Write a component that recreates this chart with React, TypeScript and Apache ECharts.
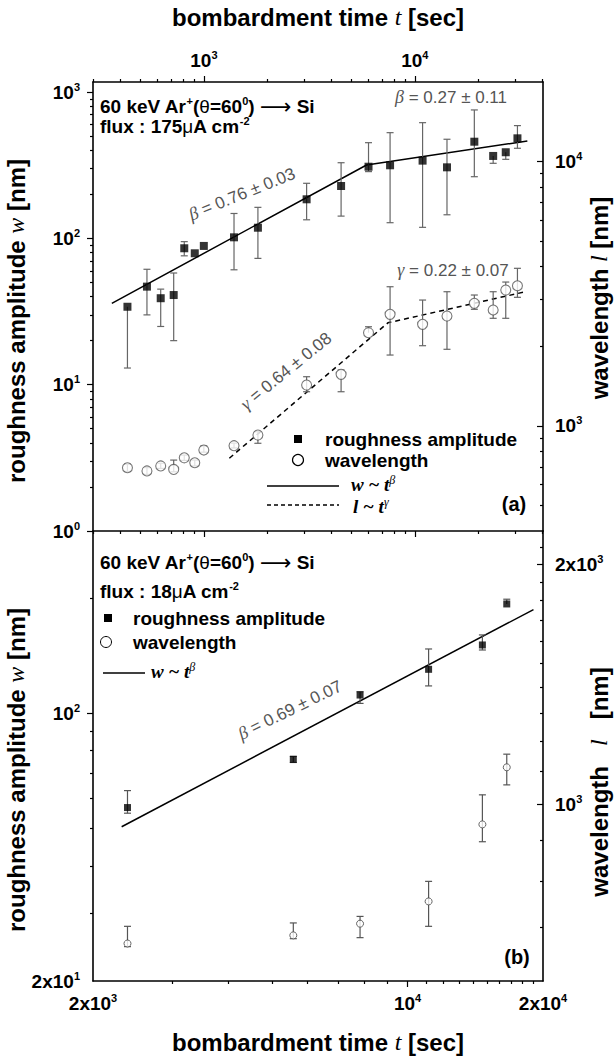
import React, { useEffect, useRef } from 'react';
import * as echarts from 'echarts';

// ---------------- data: panel (a) ----------------
const tA = [434, 537, 624, 719, 807, 905, 999, 1389, 1803, 3068, 4470, 6030, 7630, 10880, 14200, 19140, 23510, 26970, 30640];
const wA = [34.1, 46.8, 39.0, 41.0, 85.6, 79.1, 88.8, 101.7, 118.3, 185, 228, 309, 316, 340, 306, 458, 366, 388, 483];
const wALo = [13.0, 30, 25, 20, 76, 79.1, 88.8, 61, 73, 134, 142, 286, 128, 119, 145, 264, 326, 347, 413];
const wAHi = [34.1, 61.5, 45, 58, 95, 79.1, 88.8, 148, 163, 238, 329, 451, 528, 618, 476, 755, 366, 388, 590];
const lA = [694, 675, 705, 684, 757, 725, 810, 841, 923, 1427, 1566, 2251, 2642, 2421, 2603, 2907, 2743, 3265, 3389];
const lALo = [672, 655, 690, 670, 740, 705, 795, 825, 859, 1346, 1346, 2251, 1853, 2010, 1948, 2760, 2552, 2552, 3064];
const lAHi = [716, 695, 722, 742, 775, 742, 839, 860, 950, 1534, 1626, 2371, 3360, 2992, 3217, 3126, 3217, 3500, 3945];
const fitWAt = [366, 5902, 34140];
const fitWAw = [36.0, 317.5, 463];
const fitLAt = [1320, 7450, 33420];
const fitLAl = [754, 2453, 3217];

// ---------------- data: panel (b) ----------------
const tB = [2386, 5574, 7843, 11138, 14667, 16615];
const wB = [56.8, 75.9, 111.8, 130.5, 151.1, 193.4];
const wBLo = [54.9, 74.5, 106.3, 118.1, 146.6, 193.4];
const wBHi = [62.9, 77.3, 114.1, 147.5, 160.5, 199];
const lB = [668.6, 684.5, 708, 755, 943, 1112];
const lBLo = [662.6, 678, 680, 702.6, 897, 1057];
const lBHi = [702.6, 709.5, 723, 800, 1027, 1155];
const fitWBt = [2316, 19050];
const fitWBw = [50.6, 187];

// ---------------- axis ticks / labels ----------------
const aTimeRange = [298, 40500];
const aTimeLabels = [1000, 10000];
const aTimeMinor = [300, 400, 500, 600, 700, 800, 900, 2000, 3000, 4000, 5000, 6000, 7000, 8000, 9000, 20000, 30000, 40000];
const aWRange = [1, 1172];
const aWLabels = [1, 10, 100, 1000];
const aWMinor = [2, 3, 4, 5, 6, 7, 8, 9, 20, 30, 40, 50, 60, 70, 80, 90, 200, 300, 400, 500, 600, 700, 800, 900];
const aLRange = [400, 20000];
const aLLabels = [1000, 10000];
const aLMinor = [500, 600, 700, 800, 900, 2000, 3000, 4000, 5000, 6000, 7000, 8000, 9000];
const bTimeRange = [2000, 20000];
const bTimeLabels = [2000, 10000, 20000];
const bTimeMajor = [10000];
const bTimeMinor = [3000, 4000, 5000, 6000, 7000, 8000, 9000, 11000, 12000, 13000, 14000, 15000, 16000, 17000, 18000, 19000];
const bWRange = [20, 300];
const bWLabels = [20, 100];
const bWMajor = [100];
const bWMinor = [30, 40, 50, 60, 70, 80, 90, 200];
const bLRange = [600, 2200];
const bLLabels = [1000, 2000];
const bLMinor = [700, 800, 900, 1100, 1200, 1300, 1400, 1500, 1600, 1700, 1800, 1900, 2100];

const SANS = '"Liberation Sans", Arial, "DejaVu Sans", sans-serif';
const SERIF = '"Liberation Serif", "Times New Roman", "DejaVu Serif", serif';

function supLabel(v: number): string {
  const e = Math.floor(Math.log10(v) + 1e-9);
  const m = Math.round(v / Math.pow(10, e));
  return m === 1 ? `{b|10}{s|${e}}` : `{b|${m}x10}{s|${e}}`;
}

const labelRich = {
  b: { fontSize: 19, fontWeight: 'bold', fontFamily: SANS, color: '#000', lineHeight: 22 },
  s: { fontSize: 11, fontWeight: 'bold', fontFamily: SANS, color: '#000', lineHeight: 12, verticalAlign: 'top' },
};

function logAxis(o: any) {
  return {
    type: 'log',
    logBase: 10,
    gridIndex: o.grid,
    position: o.pos,
    min: o.range[0],
    max: o.range[1],
    axisLine: { show: !!o.line, onZero: false, lineStyle: { color: '#000', width: 1.6 } },
    axisTick: {
      show: true,
      inside: !!o.inside,
      length: o.len,
      customValues: o.ticks,
      lineStyle: { color: '#000', width: 1.2 },
    },
    axisLabel: o.labels
      ? { show: true, customValues: o.labels, formatter: (v: number) => supLabel(v), rich: labelRich, margin: o.margin ?? 12 }
      : { show: false },
    splitLine: { show: false },
    minorTick: { show: false },
    z: 5,
  };
}

function errSeries(xi: number, yi: number, t: number[], v: number[], lo: number[], hi: number[], color: string, cap: number) {
  return {
    type: 'custom',
    xAxisIndex: xi,
    yAxisIndex: yi,
    silent: true,
    z: 2,
    clip: false,
    data: t.map((tt, i) => [tt, v[i], lo[i], hi[i]]),
    renderItem: (_p: any, api: any) => {
      const x = api.value(0);
      const val = api.value(1);
      const l = api.value(2);
      const h = api.value(3);
      const pl = api.coord([x, l]);
      const ph = api.coord([x, h]);
      const st = { stroke: color, lineWidth: 1.2 };
      const ch: any[] = [{ type: 'line', shape: { x1: pl[0], y1: pl[1], x2: ph[0], y2: ph[1] }, style: st }];
      if (h > val) ch.push({ type: 'line', shape: { x1: ph[0] - cap, y1: ph[1], x2: ph[0] + cap, y2: ph[1] }, style: st });
      if (l < val) ch.push({ type: 'line', shape: { x1: pl[0] - cap, y1: pl[1], x2: pl[0] + cap, y2: pl[1] }, style: st });
      return { type: 'group', children: ch };
    },
  };
}

const R = {
  a: { fontSize: 19, fontWeight: 'bold', fontFamily: SANS, fill: '#000', lineHeight: 22 },
  s: { fontSize: 11, fontWeight: 'bold', fontFamily: SANS, fill: '#000', lineHeight: 12, verticalAlign: 'top' },
  g: { fontSize: 19, fontFamily: SANS, fill: '#000', lineHeight: 22 },
  r: { fontSize: 22, fontFamily: '"DejaVu Sans", sans-serif', fill: '#000', lineHeight: 22 },
};
const TR = {
  a: { fontSize: 24, fontWeight: 'bold', fontFamily: SANS, fill: '#000' },
  i: { fontSize: 24, fontStyle: 'italic', fontFamily: SERIF, fill: '#000' },
};
const AR = {
  g: { fontSize: 18, fontStyle: 'italic', fontFamily: SERIF, fill: '#555' },
  n: { fontSize: 17, fontFamily: SANS, fill: '#555' },
};
const FR = {
  f: { fontSize: 19, fontStyle: 'italic', fontWeight: 'bold', fontFamily: SERIF, fill: '#000', lineHeight: 21 },
  s: { fontSize: 12, fontStyle: 'italic', fontFamily: SERIF, fill: '#000', lineHeight: 9, verticalAlign: 'top' },
};

function txt(x: number, y: number, text: string, rich: any, align = 'left', rot = 0) {
  return { type: 'text', x, y, rotation: rot, z: 20, style: { text, rich, align, verticalAlign: 'middle' } };
}

const deg = Math.PI / 180;

const graphics: any[] = [
  // titles
  txt(318, 17, '{a|bombardment time }{i|t}{a| [sec]}', TR, 'center'),
  txt(318, 1042, '{a|bombardment time }{i|t}{a| [sec]}', TR, 'center'),
  txt(16, 321, '{a|roughness amplitude }{i|w}{a| [nm]}', TR, 'center', Math.PI / 2),
  txt(16, 770, '{a|roughness amplitude }{i|w}{a| [nm]}', TR, 'center', Math.PI / 2),
  txt(599, 298, '{a|wavelength }{i|l}{a| [nm]}', TR, 'center', Math.PI / 2),
  txt(599, 782, '{a|wavelength   }{i|l}{a|   [nm]}', TR, 'center', Math.PI / 2),
  // panel a header
  txt(100, 106, '{a|60 keV Ar}{s|+}{a|(}{g|θ}{a|=60}{s|0}{a|) }{r|⟶}{a| Si}', R),
  txt(100, 126, '{a|flux : 175}{g|μ}{a|A cm}{s|-2}', R),
  // panel b header
  txt(100, 562, '{a|60 keV Ar}{s|+}{a|(}{g|θ}{a|=60}{s|0}{a|) }{r|⟶}{a| Si}', R),
  txt(100, 591, '{a|flux : 18}{g|μ}{a|A cm}{s|-2}', R),
  // fit annotations
  txt(242, 194, '{g|β}{n| = 0.76 ± 0.03}', AR, 'center', 22 * deg),
  txt(286, 371, '{g|γ}{n| = 0.64 ± 0.08}', AR, 'center', 39 * deg),
  txt(451, 97, '{g|β}{n| = 0.27 ± 0.11}', AR, 'center'),
  txt(453, 270, '{g|γ}{n| = 0.22 ± 0.07}', AR, 'center'),
  txt(290, 710, '{g|β}{n| = 0.69 ± 0.07}', AR, 'center', 26 * deg),
  // legend (a)
  { type: 'rect', z: 20, shape: { x: 294, y: 435, width: 8, height: 8 }, style: { fill: '#000' } },
  txt(325, 439, '{a|roughness amplitude}', R),
  { type: 'circle', z: 20, shape: { cx: 298, cy: 460, r: 5.5 }, style: { fill: '#fff', stroke: '#000', lineWidth: 1.2 } },
  txt(325, 460, '{a|wavelength}', R),
  { type: 'line', z: 20, shape: { x1: 267, y1: 486, x2: 339, y2: 486 }, style: { stroke: '#000', lineWidth: 1.3 } },
  txt(351, 484, '{f|w ~ t}{s|β}', FR),
  { type: 'line', z: 20, shape: { x1: 267, y1: 505, x2: 339, y2: 505 }, style: { stroke: '#000', lineWidth: 1.3, lineDash: [4, 3] } },
  txt(353, 506, '{f|l ~ t}{s|γ}', FR),
  txt(514, 504, '{a|(a)}', { a: { fontSize: 20, fontWeight: 'bold', fontFamily: SANS, fill: '#000' } }, 'center'),
  // legend (b)
  { type: 'rect', z: 20, shape: { x: 104, y: 614, width: 8, height: 8 }, style: { fill: '#000' } },
  txt(133, 618, '{a|roughness amplitude}', R),
  { type: 'circle', z: 20, shape: { cx: 106, cy: 642, r: 5.5 }, style: { fill: '#fff', stroke: '#000', lineWidth: 1 } },
  txt(133, 642, '{a|wavelength}', R),
  { type: 'line', z: 20, shape: { x1: 103, y1: 673, x2: 145, y2: 673 }, style: { stroke: '#000', lineWidth: 1.3 } },
  txt(151, 671, '{f|w ~ t}{s|β}', FR),
  txt(517, 957, '{a|(b)}', { a: { fontSize: 20, fontWeight: 'bold', fontFamily: SANS, fill: '#000' } }, 'center'),
];

const zip = (a: number[], b: number[]) => a.map((v, i) => [v, b[i]]);

const option: any = {
  animation: false,
  backgroundColor: '#fff',
  grid: [
    { left: 93, top: 82, width: 450, height: 449, show: false },
    { left: 93, top: 531, width: 450, height: 450, show: false },
  ],
  xAxis: [
    logAxis({ grid: 0, pos: 'top', range: aTimeRange, ticks: aTimeLabels, len: 6, line: true, labels: aTimeLabels, margin: 11 }),
    logAxis({ grid: 0, pos: 'top', range: aTimeRange, ticks: aTimeMinor, len: 3 }),
    logAxis({ grid: 0, pos: 'bottom', range: aTimeRange, ticks: aTimeLabels, len: 6, line: true }),
    logAxis({ grid: 0, pos: 'bottom', range: aTimeRange, ticks: aTimeMinor, len: 3 }),
    logAxis({ grid: 1, pos: 'bottom', range: bTimeRange, ticks: bTimeMajor, len: 6, line: true, labels: bTimeLabels, margin: 11 }),
    logAxis({ grid: 1, pos: 'bottom', range: bTimeRange, ticks: bTimeMinor, len: 3 }),
  ],
  yAxis: [
    logAxis({ grid: 0, pos: 'left', range: aWRange, ticks: aWLabels, len: 6, line: true, labels: aWLabels, margin: 13 }),
    logAxis({ grid: 0, pos: 'left', range: aWRange, ticks: aWMinor, len: 3 }),
    logAxis({ grid: 0, pos: 'right', range: aLRange, ticks: aLLabels, len: 6, inside: true, line: true, labels: aLLabels, margin: 12 }),
    logAxis({ grid: 0, pos: 'right', range: aLRange, ticks: aLMinor, len: 3, inside: true }),
    logAxis({ grid: 1, pos: 'left', range: bWRange, ticks: bWMajor, len: 6, line: true, labels: bWLabels, margin: 13 }),
    logAxis({ grid: 1, pos: 'left', range: bWRange, ticks: bWMinor, len: 3 }),
    logAxis({ grid: 1, pos: 'right', range: bLRange, ticks: bLLabels, len: 6, inside: true, line: true, labels: bLLabels, margin: 12 }),
    logAxis({ grid: 1, pos: 'right', range: bLRange, ticks: bLMinor, len: 3, inside: true }),
  ],
  series: [
    // panel a
    { type: 'line', xAxisIndex: 0, yAxisIndex: 0, data: zip(fitWAt, fitWAw), showSymbol: false, silent: true, z: 1,
      lineStyle: { color: '#000', width: 1.5 } },
    { type: 'line', xAxisIndex: 0, yAxisIndex: 2, data: zip(fitLAt, fitLAl), showSymbol: false, silent: true, z: 1,
      lineStyle: { color: '#000', width: 1.5, type: [5, 4] } },
    errSeries(0, 0, tA, wA, wALo, wAHi, '#666', 3.5),
    errSeries(0, 2, tA, lA, lALo, lAHi, '#666', 3.5),
    { type: 'scatter', xAxisIndex: 0, yAxisIndex: 0, data: zip(tA, wA), symbol: 'rect', symbolSize: 8, z: 4,
      itemStyle: { color: '#000' } },
    { type: 'scatter', xAxisIndex: 0, yAxisIndex: 2, data: zip(tA, lA), symbol: 'circle', symbolSize: 10, z: 4,
      itemStyle: { color: '#fff', borderColor: '#555', borderWidth: 1.1 } },
    // panel b
    { type: 'line', xAxisIndex: 4, yAxisIndex: 4, data: zip(fitWBt, fitWBw), showSymbol: false, silent: true, z: 1,
      lineStyle: { color: '#000', width: 1.5 } },
    errSeries(4, 4, tB, wB, wBLo, wBHi, '#555', 3.5),
    errSeries(4, 6, tB, lB, lBLo, lBHi, '#555', 3.5),
    { type: 'scatter', xAxisIndex: 4, yAxisIndex: 4, data: zip(tB, wB), symbol: 'rect', symbolSize: 7, z: 4,
      itemStyle: { color: '#000' } },
    { type: 'scatter', xAxisIndex: 4, yAxisIndex: 6, data: zip(tB, lB), symbol: 'circle', symbolSize: 7, z: 4,
      itemStyle: { color: '#fff', borderColor: '#444', borderWidth: 1 } },
  ],
  graphic: graphics,
};

export default function App() {
  const ref = useRef<HTMLDivElement>(null);
  useEffect(() => {
    const chart = echarts.init(ref.current as HTMLDivElement, null, { renderer: 'svg', width: 615, height: 1059 });
    chart.setOption(option);
    return () => chart.dispose();
  }, []);
  return (
    <div
      ref={ref}
      style={{ position: 'absolute', left: 0, top: 0, width: 615, height: 1059, background: '#fff' }}
    />
  );
}
